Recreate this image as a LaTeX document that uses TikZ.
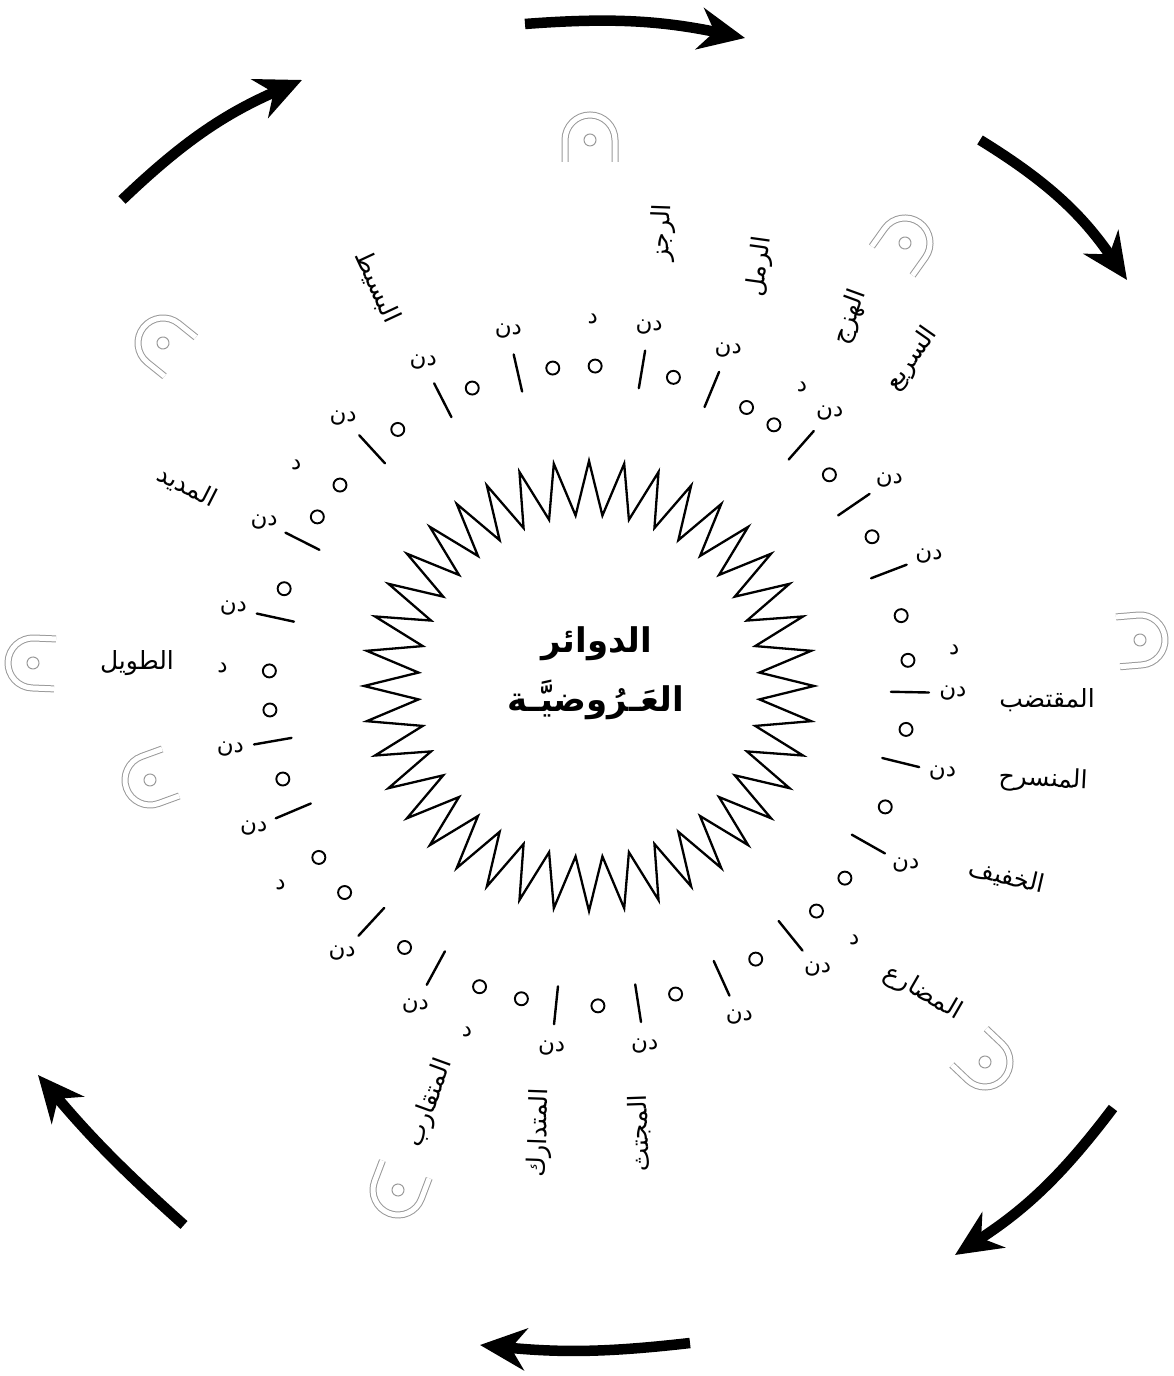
\documentclass[tikz,border=0pt]{standalone}
\usepackage{fontspec}
\newfontfamily\arabicfont[Script=Arabic]{DejaVu Sans}
\TeXXeTstate=1
\usetikzlibrary{arrows.meta}
\newcommand\hshoe[4]{%
  \begin{scope}[shift={(#2,#3)},rotate=#4]
    \draw[shoe] (-22,-25) -- (0,-25) arc[start angle=-90,end angle=90,radius=25] -- (-22,25);
    \draw[shoedot] (0,0) circle[radius=6];
    \coordinate (#1) at (0,0);
  \end{scope}}
\begin{document}
\begin{tikzpicture}[x=1pt,y=1pt,
  prosline/.style={line width=2.4pt,line cap=round},
  proscirc/.style={line width=1.9pt},
  dn/.style={font={\arabicfont\fontsize{23}{26}\selectfont},inner sep=0pt},
  meter/.style={font={\arabicfont\fontsize{25}{28}\selectfont},inner sep=0pt},
  title/.style={font={\arabicfont\bfseries\fontsize{34}{40}\selectfont},inner sep=0pt},
  shoe/.style={draw=gray!80,line width=1pt,double=white,double distance=5pt},
  shoedot/.style={draw=gray!80,line width=1pt},
  bigarrow/.style={line width=10.5pt,-{Stealth[length=46pt,width=42pt]}},
  starline/.style={line width=2.3pt,line join=miter,miter limit=20}]
\useasboundingbox (0,0) rectangle (1174,1376);
\coordinate (C) at (589,690);

% star
\draw[starline] plot[samples at={0,...,79},variable=\k]
  ({589+(198+27*cos(180*\k))*cos(90+\k*4.5)},{690+(198+27*cos(180*\k))*sin(90+\k*4.5)}) -- cycle;

% title
\node[title] (t1) at (597,732) {\beginR الدوائر\endR};
\node[title] (t2) at (596,676) {\beginR العَـرُوضيَّـة\endR};

% strokes with dn
\foreach \a [count=\i] in {192.3,206.8,227.5,242.9,257.2,279.5,292.5,311.4,325.6,339.1,1.1,13.8,29.5,51.1,65.6,81.2,95.9,118.5,132.7,157.1,170.1}{
  \draw[prosline] ({589+302*cos(-\a)},{690+302*sin(-\a)}) -- ({589+340*cos(-\a)},{690+340*sin(-\a)});
  \node[dn] (dn\i) at ({589+364*cos(-\a)},{690+364*sin(-\a)}) {\beginR دن\endR};
}
% circles
\foreach \a [count=\i] in {175.7,182.7,197.7,211.9,218.9,233.3,248.6,263.5,271.1,285.3,299.5,305.3,318.7,332.2,347.3,355.4,7.8,22.2,36.9,44.7,58.6,74.3,88.4,102.2,110.0,125.2,139.8,147.6,163.1}{
  \draw[proscirc] ({589+320*cos(-\a)},{690+320*sin(-\a)}) circle[radius=6.5];
}
% dal
\foreach \a [count=\i] in {182.8,217.1,270.6,305.5,354.3,43.7,109.4,147.2}{
  \node[dn] (dal\i) at ({589+367*cos(-\a)},{690+367*sin(-\a)}) {\beginR د\endR};
}

% meter names
\node[meter] (m1) at (137,713) {\beginR الطويل\endR};
\node[meter,rotate=-27] (m2) at (187,889) {\beginR المديد\endR};
\node[meter,rotate=-65] (m3) at (377,1089) {\beginR البسيط\endR};
\node[meter,rotate=88] (m4) at (663,1143) {\beginR الرجز\endR};
\node[meter,rotate=82] (m5) at (760,1109) {\beginR الرمل\endR};
\node[meter,rotate=70] (m6) at (850,1059) {\beginR الهزج\endR};
\node[meter,rotate=55] (m7) at (912,1017) {\beginR السريع\endR};
\node[meter] (m8) at (1047,676) {\beginR المقتضب\endR};
\node[meter,rotate=-3] (m9) at (1043,596) {\beginR المنسرح\endR};
\node[meter,rotate=-13] (m10) at (1007,499) {\beginR الخفيف\endR};
\node[meter,rotate=-30] (m11) at (923,383) {\beginR المضارع\endR};
\node[meter,rotate=92] (m12) at (640,243) {\beginR المجتث\endR};
\node[meter,rotate=88] (m13) at (540,243) {\beginR المتدارك\endR};
\node[meter,rotate=70] (m14) at (430,273) {\beginR المتقارب\endR};

% horseshoes
\hshoe{h1}{590}{1236}{90}
\hshoe{h2}{905}{1133}{54.5}
\hshoe{h3}{1140}{736}{4.8}
\hshoe{h4}{985}{314}{-43.5}
\hshoe{h5}{398}{186}{-110.8}
\hshoe{h6}{150}{596}{-160}
\hshoe{h7}{33}{713}{177.6}
\hshoe{h8}{163}{1033}{141.2}

% arrows
\coordinate (a1s) at (525,1352); \coordinate (a1e) at (745,1338);
\coordinate (a2s) at (980,1236); \coordinate (a2e) at (1127,1096);
\coordinate (a3s) at (1113,268); \coordinate (a3e) at (955,121);
\coordinate (a4s) at (690,33);   \coordinate (a4e) at (480,31);
\coordinate (a5s) at (184,151);  \coordinate (a5e) at (38,301);
\coordinate (a6s) at (122,1176); \coordinate (a6e) at (302,1296);
\draw[bigarrow] (a1s) to[bend left=8] (a1e);
\draw[bigarrow] (a2s) to[bend left=12] (a2e);
\draw[bigarrow] (a3s) to[bend left=10] (a3e);
\draw[bigarrow] (a4s) to[bend left=6] (a4e);
\draw[bigarrow] (a5s) to[bend left=4] (a5e);
\draw[bigarrow] (a6s) to[bend left=10] (a6e);
\end{tikzpicture}
\end{document}
